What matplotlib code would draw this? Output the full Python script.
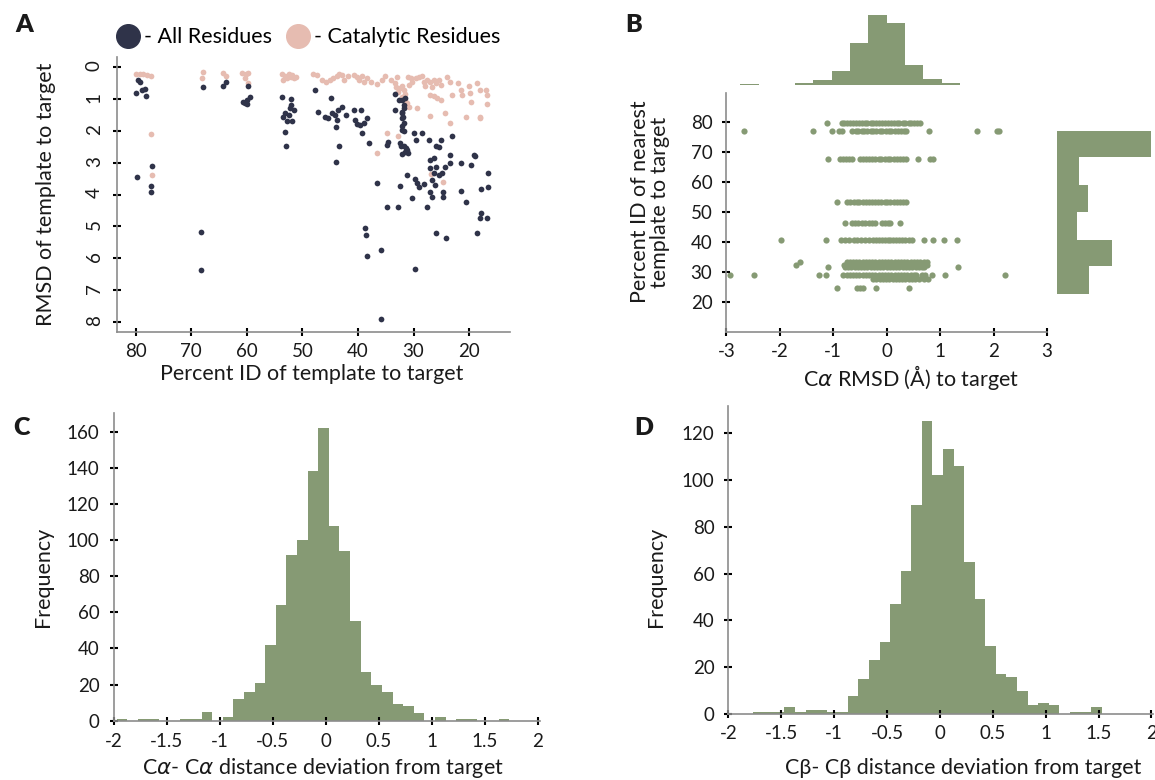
import numpy as np
import matplotlib
matplotlib.use('Agg')
import matplotlib.pyplot as plt
from matplotlib.lines import Line2D

plt.rcParams['font.family'] = ['Lato', 'DejaVu Sans']
plt.rcParams['axes.unicode_minus'] = False
plt.rcParams['mathtext.fontset'] = 'dejavusans'

# colours
dark = '#2f3349'
pink = '#e6bcb1'
green = '#869a74'
txt = '#1a1a1a'

# ---------- A: RMSD vs percent ID ----------
all_pid = [79.5, 79.2, 79.9, 78.9, 78.3, 78.1, 79.7, 77.0, 77.3, 77.3,
           67.9, 68.3, 68.3, 64.3, 63.7,
           59.7, 59.5, 59.9, 60.3, 60.6, 60.0,
           53.7, 52.1, 52.2, 51.5, 53.1, 53.4, 52.8, 51.8, 53.1, 52.9, 52.0, 52.4,
           47.7, 44.9, 47.1, 46.0, 45.4, 44.7, 44.1, 43.7, 43.9, 43.5, 42.8, 42.1, 43.4, 43.9,
           40.8, 40.5, 40.2, 39.4, 39.6, 38.9, 38.3, 39.2, 38.1,
           38.7, 38.5, 38.4, 35.8, 35.8, 36.5, 34.7, 34.6, 34.7,
           33.4, 32.6, 32.1, 31.5, 33.4, 32.1, 32.1, 31.8, 32.1, 32.5, 32.3, 31.8, 31.5, 31.2,
           32.1, 32.8, 32.5, 31.7, 31.8, 32.0, 31.9, 32.0, 31.7, 31.4, 31.0,
           29.9, 29.5, 28.5, 31.1, 30.3, 29.8, 29.4, 29.0, 28.1, 29.8,
           27.3, 27.0, 27.0, 26.6, 26.3, 26.0, 25.5, 25.1, 26.3, 26.0, 25.4, 24.9, 27.0, 26.6,
           27.6, 26.0, 24.2, 24.7, 24.7, 26.1, 24.4, 23.4, 23.4, 23.0,
           21.5, 21.5, 20.5, 19.7, 19.2, 18.9, 18.6, 18.0, 17.8, 16.8, 17.8, 16.6, 16.6]
all_rmsd = [0.40, 0.45, 0.80, 0.73, 0.69, 0.89, 3.46, 3.09, 3.73, 3.91,
            0.63, 5.17, 6.38, 0.59, 0.45,
            0.59, 0.94, 1.03, 1.13, 1.08, 1.16,
            0.94, 1.00, 1.29, 1.34, 1.45, 1.58, 1.68, 1.68, 2.05, 2.49, 1.18, 1.50,
            0.71, 0.97, 1.42, 1.55, 1.60, 1.43, 1.50, 1.66, 1.87, 1.34, 1.26, 1.50, 2.49, 2.99,
            1.36, 1.66, 1.78, 1.36, 1.81, 1.76, 1.60, 2.08, 2.39,
            5.06, 5.27, 5.92, 5.74, 7.92, 3.65, 4.40, 2.34, 2.44,
            0.84, 1.03, 1.03, 0.97, 1.36, 1.45, 1.60, 1.76, 1.97, 2.39, 2.49, 2.49, 2.65, 2.60,
            2.73, 4.40, 3.72, 1.18, 1.29, 1.40, 1.55, 1.85, 2.00, 2.55, 2.70,
            2.08, 2.29, 2.08, 3.39, 4.10, 3.51, 3.65, 3.77, 3.68, 6.33,
            2.29, 2.91, 3.18, 3.54, 3.33, 2.49, 2.52, 2.29, 2.86, 3.12, 3.39, 3.33, 3.91, 4.07,
            4.40, 5.22, 5.38, 3.91, 4.07, 3.70, 3.12, 2.76, 3.00, 2.15,
            3.00, 3.89, 4.25, 3.07, 2.76, 2.78, 5.22, 4.75, 4.59, 4.75, 3.84, 3.33, 3.75]

cat_pid = [79.9, 79.2, 78.6, 77.9, 77.3, 77.3, 77.0,
           67.8, 68.1, 64.3, 63.7,
           60.8, 60.2, 59.7, 60.3, 59.8,
           53.7, 53.1, 52.8, 52.1, 51.5, 53.4, 52.4, 51.8, 51.2,
           48.0, 47.3, 46.4, 45.7, 45.0, 44.4, 43.7, 43.4, 42.8, 42.5, 41.8, 40.8, 40.2, 39.9,
           39.2, 38.9, 38.3, 37.6, 36.6,
           35.7, 35.1, 34.1, 33.4, 33.1, 32.8, 32.5, 32.1, 31.8, 31.5, 32.1, 31.6, 31.5, 31.2,
           30.8, 30.5, 30.2, 29.5, 28.5, 28.2, 27.6, 27.0, 26.6, 26.3, 26.0, 25.4, 25.0,
           27.0, 26.3, 25.7, 25.0, 23.4, 23.1, 21.5, 21.2, 19.9, 18.6, 18.0, 17.0, 16.7, 16.7,
           19.6, 20.5, 18.0, 18.0, 23.4, 24.4, 27.0, 29.4, 30.8, 32.8, 34.7, 36.5, 26.9, 24.7,
           33.0, 31.0, 29.0, 28.0, 24.0, 22.0, 20.0]
cat_rmsd = [0.20, 0.20, 0.22, 0.25, 0.27, 2.10, 3.40,
            0.14, 0.35, 0.19, 0.29,
            0.19, 0.21, 0.17, 0.34, 0.50,
            0.22, 0.28, 0.35, 0.30, 0.35, 0.40, 0.20, 0.25, 0.30,
            0.21, 0.24, 0.40, 0.45, 0.40, 0.35, 0.29, 0.21, 0.24, 0.40, 0.29, 0.24, 0.31, 0.40,
            0.27, 0.45, 0.35, 0.45, 0.52,
            0.40, 0.29, 0.40, 0.50, 0.61, 0.77, 0.66, 0.59, 0.71, 0.84, 0.94, 1.24, 1.03, 1.13,
            0.56, 0.35, 0.45, 0.35, 0.27, 0.45, 0.40, 0.45, 0.61, 0.40, 0.50, 0.40, 0.56,
            0.87, 0.92, 0.97, 1.03, 0.45, 0.87, 0.71, 0.87, 0.82, 0.50, 0.71, 0.71, 0.87, 1.15,
            1.08, 1.55, 1.55, 1.60, 1.76, 1.45, 1.53, 1.29, 1.24, 2.16, 2.08, 2.70, 3.36, 3.60,
            0.30, 0.30, 0.30, 0.60, 0.30, 0.50, 0.60]

# ---------- B: C-alpha RMSD vs percent ID of nearest template ----------
b_row_y = [79.7, 77.2, 67.8, 53.5, 46.3, 40.8, 33.3, 32.5, 31.6, 29.1, 27.8, 24.7]
row_797 = [-1.12, -0.84, -0.80, -0.74, -0.69, -0.63, -0.58, -0.52, -0.47, -0.41, -0.36, -0.30,
           -0.25, -0.19, -0.14, -0.08, -0.03, 0.02, 0.08, 0.13, 0.19, 0.24, 0.30, 0.35, 0.41,
           0.46, 0.52, 0.57, 0.62]
row_772 = [-2.66, -1.38, -1.03, -0.89, -0.83, -0.64, -0.58, -0.53, -0.47, -0.42, -0.36, -0.30,
           -0.25, -0.19, -0.13, -0.08, -0.02, 0.04, 0.09, 0.15, 0.21, 0.26, 0.32, 0.37, 0.80,
           1.69, 2.07, 2.11]
row_678 = [-1.10, -0.87, -0.82, -0.76, -0.70, -0.65, -0.50, -0.44, -0.38, -0.33, -0.27, -0.21,
           -0.15, -0.10, -0.04, 0.02, 0.07, 0.13, 0.19, 0.25, 0.31, 0.37, 0.59, 0.81, 0.86]
row_535 = [-0.92, -0.74, -0.68, -0.62, -0.56, -0.51, -0.45, -0.39, -0.33, -0.27, -0.22, -0.16,
           -0.10, -0.04, 0.01, 0.07, 0.13, 0.19, 0.25, 0.31, 0.37]
row_463 = [-0.77, -0.65, -0.59, -0.53, -0.47, -0.40, -0.33, -0.27, -0.21, -0.09, -0.03, 0.03,
           0.06, 0.25]
row_408 = [-1.97, -1.13, -0.86, -0.77, -0.70, -0.62, -0.55, -0.48, -0.40, -0.33, -0.26, -0.20,
           -0.15, -0.09, -0.04, 0.02, 0.07, 0.12, 0.18, 0.23, 0.29, 0.35, 0.41, 0.47, 0.70,
           0.86, 1.08, 1.31]
row_333 = [-1.62, -0.75, -0.69, -0.63, -0.57, -0.51, -0.45, -0.39, -0.33, -0.27, -0.21, -0.15,
           -0.09, -0.03, 0.03, 0.09, 0.15, 0.21, 0.27, 0.33, 0.39, 0.45, 0.51, 0.57, 0.63,
           0.69, 0.75]
row_325 = [-1.70, -0.79, -0.73, -0.67, -0.61, -0.55, -0.49, -0.43, -0.37, -0.31, -0.25, -0.19,
           -0.13, -0.07, -0.01, 0.05, 0.11, 0.17, 0.23, 0.29, 0.35, 0.41, 0.47, 0.53, 0.59,
           0.65, 0.71, 0.76]
row_316 = [-1.10, -0.78, -0.72, -0.66, -0.60, -0.54, -0.48, -0.42, -0.36, -0.30, -0.24, -0.18,
           -0.12, -0.06, 0.00, 0.06, 0.12, 0.18, 0.24, 0.30, 0.36, 0.42, 0.48, 0.54, 0.60,
           0.66, 0.70, 1.34]
row_291 = [-2.94, -2.49, -1.26, -1.13, -0.81, -0.75, -0.69, -0.63, -0.57, -0.51, -0.45, -0.39,
           -0.33, -0.27, -0.21, -0.15, -0.09, -0.03, 0.03, 0.09, 0.15, 0.21, 0.27, 0.33, 0.39,
           0.45, 0.51, 0.55, 0.66, 0.72, 0.84, 1.09, 2.21]
row_278 = [-0.25, -0.19, -0.13, -0.07, -0.01, 0.05, 0.11, 0.17, 0.23, 0.29, 0.35, 0.41, 0.47,
           0.53, 0.60, 0.70, 0.78]
row_247 = [-0.93, -0.56, -0.50, -0.45, -0.20, 0.42]
b_rows = [row_797, row_772, row_678, row_535, row_463, row_408, row_333, row_325, row_316,
          row_291, row_278, row_247]

# marginal histograms of panel B
top_first_edge = -2.74
top_width = 0.3425
top_counts = [1, 0, 0, 3, 12, 38, 120, 200, 178, 56, 17, 4]
side_edges = [22.8, 31.9, 40.8, 50.2, 59.1, 68.3, 77.2]
side_counts = [32, 55, 20, 31, 22, 94]

# ---------- C / D histograms (bin width 0.1) ----------
hist_first_edge = -1.97
hist_width = 0.1
ca_counts = [1, 0, 1, 1, 0, 0, 1, 1, 5, 0, 2, 12, 16, 21, 42, 64, 92, 100, 138, 162,
             108, 94, 55, 27, 20, 16, 9, 8, 4, 0, 2, 0, 1, 1, 0, 0, 1]
cb_counts = [0, 0, 1, 1, 1, 3, 1, 2, 2, 1, 1, 8, 15, 23, 31, 47, 61, 89, 125, 102,
             113, 106, 65, 49, 29, 17, 16, 10, 4, 5, 4, 0, 1, 1, 3]

W, H = 1155, 780
fig = plt.figure(figsize=(W / 100, H / 100), dpi=100)


def add_ax(left, top, right, bottom):
    # axes from pixel box
    return fig.add_axes([left / W, 1 - bottom / H, (right - left) / W, (bottom - top) / H])


def style(ax):
    for s in ['top', 'right']:
        ax.spines[s].set_visible(False)
    for s in ['left', 'bottom']:
        ax.spines[s].set_color('#8c8c8c')
        ax.spines[s].set_linewidth(1.2)
    ax.tick_params(direction='inout', length=6, width=1.5, color='black',
                   labelsize=13.5, labelcolor=txt)


def label(x, y, s, rot=0, size=15.5, **kw):
    fig.text(x / W, 1 - y / H, s, ha='center', va='center', rotation=rot,
             fontsize=size, color=txt, **kw)


# panel A
axA = add_ax(116.7, 56.7, 509.7, 332)
style(axA)
axA.scatter(all_pid, all_rmsd, s=17, color=dark, lw=0, zorder=3)
axA.scatter(cat_pid, cat_rmsd, s=17, color=pink, lw=0, zorder=2)
axA.set_xlim(83.4, 12.7)
axA.set_ylim(8.32, -0.33)
axA.set_xticks([80, 70, 60, 50, 40, 30, 20])
axA.set_yticks(range(0, 9))
axA.tick_params(axis='y', labelrotation=90, pad=7)
axA.tick_params(axis='x', pad=5)
handles = [Line2D([], [], marker='o', ls='', ms=17, color=dark),
           Line2D([], [], marker='o', ls='', ms=17, color=pink)]
axA.legend(handles, ['- All Residues', '- Catalytic Residues'], loc='center',
           bbox_to_anchor=(0.489, 1.071), ncol=2, frameon=False, fontsize=15.5,
           handletextpad=0.25, handlelength=1.0, columnspacing=0.7, borderpad=0)
label(312, 374, 'Percent ID of template to target')
label(46, 194, 'RMSD of template to target', rot=90)

# panel B scatter + marginals
axB = add_ax(726.3, 93.3, 1047, 332)
style(axB)
for yv, xs in zip(b_row_y, b_rows):
    axB.scatter(xs, [yv] * len(xs), s=20, color=green, lw=0)
axB.set_xlim(-3, 3)
axB.set_ylim(10, 89.7)
axB.set_xticks([-3, -2, -1, 0, 1, 2, 3])
axB.set_yticks([20, 30, 40, 50, 60, 70, 80])
axB.tick_params(axis='x', pad=5)
axB.tick_params(axis='y', pad=7)
label(911, 377, 'C$\\alpha$ RMSD (Å) to target')
label(650, 202, 'Percent ID of nearest\ntemplate to target', rot=90, linespacing=1.05)

axTop = add_ax(726.3, 15.2, 1047, 84.5)
top_edges = top_first_edge + top_width * np.arange(len(top_counts) + 1)
axTop.stairs(top_counts, top_edges, fill=True, color=green)
axTop.set_xlim(-3, 3)
axTop.set_ylim(0, 200)
axTop.axis('off')

axSide = add_ax(1057.3, 93.3, 1151.3, 332)
axSide.stairs(side_counts, side_edges, fill=True, color=green, orientation='horizontal')
axSide.set_ylim(10, 89.7)
axSide.set_xlim(0, 94)
axSide.axis('off')

# panel C
axC = add_ax(113.5, 412.7, 540, 720.7)
style(axC)
ca_edges = hist_first_edge + hist_width * np.arange(len(ca_counts) + 1)
axC.stairs(ca_counts, ca_edges, fill=True, color=green)
axC.set_xlim(-2, 2.02)
axC.set_ylim(0, 170.5)
axC.set_xticks([-2, -1.5, -1, -0.5, 0, 0.5, 1, 1.5, 2])
axC.set_xticklabels(['-2', '-1.5', '-1', '-0.5', '0', '0.5', '1', '1.5', '2'])
axC.set_yticks(range(0, 161, 20))
axC.tick_params(axis='x', pad=6)
axC.tick_params(axis='y', pad=7)
label(323, 768, 'C$\\alpha$- C$\\alpha$ distance deviation from target')
label(43, 577, 'Frequency', rot=90)

# panel D
axD = add_ax(728.3, 406, 1153, 714.3)
style(axD)
cb_edges = hist_first_edge + hist_width * np.arange(len(cb_counts) + 1)
axD.stairs(cb_counts, cb_edges, fill=True, color=green)
axD.set_xlim(-2, 2.015)
axD.set_ylim(0, 131.4)
axD.set_xticks([-2, -1.5, -1, -0.5, 0, 0.5, 1, 1.5, 2])
axD.set_xticklabels(['-2', '-1.5', '-1', '-0.5', '0', '0.5', '1', '1.5', '2'])
axD.set_yticks(range(0, 121, 20))
axD.tick_params(axis='x', pad=5)
axD.tick_params(axis='y', pad=7)
label(963, 768, 'Cβ- Cβ distance deviation from target')
label(656, 577, 'Frequency', rot=90)

# panel letters
for x, y, s in [(24, 25, 'A'), (634, 25, 'B'), (21, 428, 'C'), (644, 428, 'D')]:
    label(x, y, s, size=18, fontweight='heavy')

fig.savefig('out.png', dpi=100)
